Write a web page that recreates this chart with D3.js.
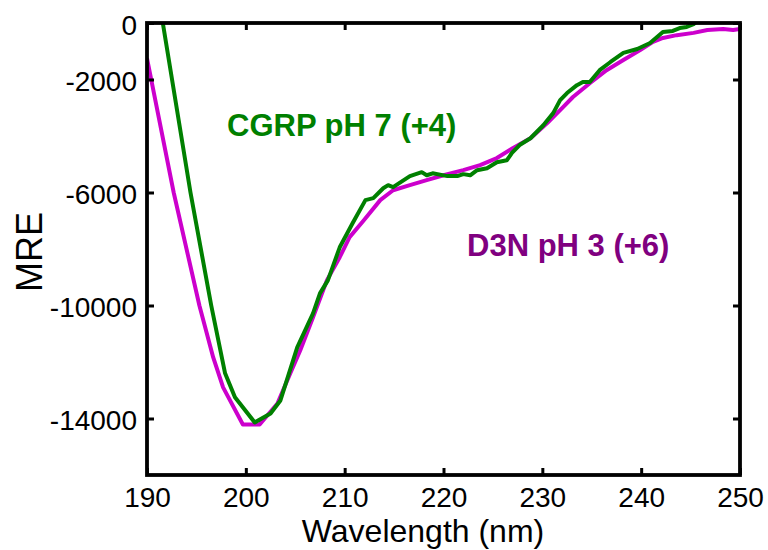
<!DOCTYPE html>
<html>
<head>
<meta charset="utf-8">
<script src="https://cdn.jsdelivr.net/npm/d3@7"></script>
<style>
  html, body { margin: 0; padding: 0; background: #fff; }
  svg { display: block; font-family: "Liberation Sans", Arial, Helvetica, sans-serif; }
</style>
</head>
<body>
<svg id="chart" width="768" height="550"></svg>
<script>
// ---- data ----
const xTicks = [190, 200, 210, 220, 230, 240, 250];
const yTicks = [0, -2000, -6000, -10000, -14000];

const cgrpWavelength = [190, 191, 191.6, 194.4, 196.5, 197.9, 198.9, 200.9, 202.5, 203.5, 205.2, 206.8, 207.5, 208.3, 209.5, 210.8, 212.1, 212.9, 213.9, 214.4, 214.9, 216.6, 217.8, 218.3, 218.9, 220.4, 221.4, 222.0, 222.7, 223.4, 224.4, 225.4, 226.4, 226.9, 227.7, 228.8, 230.1, 231.1, 231.8, 232.5, 233.5, 234.1, 234.8, 235.8, 236.9, 238.2, 239.6, 240.9, 242.2, 243.2, 243.9, 244.6, 245.3, 246, 248, 250];
const cgrpMRE = [3600, 1300, 0, -6000, -10000, -12400, -13250, -14140, -13820, -13360, -11480, -10280, -9570, -9110, -7940, -7090, -6270, -6200, -5850, -5740, -5810, -5420, -5280, -5390, -5320, -5420, -5420, -5350, -5390, -5210, -5140, -4930, -4860, -4610, -4320, -4080, -3620, -3190, -2730, -2480, -2200, -2090, -2090, -1670, -1380, -1060, -920, -710, -320, -280, -180, -140, -40, 150, 300, 400];

const d3nWavelength = [190, 192.7, 195.3, 196.7, 197.7, 199.7, 201.4, 203.2, 204.5, 205.5, 206.8, 208.2, 209.5, 210.5, 211.9, 213.6, 214.9, 216.6, 218.3, 220.0, 222.0, 223.7, 225.4, 227.0, 228.8, 230.5, 232.1, 233.1, 234.8, 236.5, 238.2, 239.9, 241.2, 242.2, 243.6, 245.3, 246.7, 248.3, 249.3, 250];
const d3nMRE = [-1250, -6000, -10000, -11840, -12900, -14210, -14210, -13470, -12400, -11590, -10420, -9110, -8290, -7580, -7000, -6270, -5920, -5740, -5560, -5390, -5210, -5030, -4780, -4430, -4080, -3540, -2980, -2620, -2130, -1670, -1310, -960, -670, -530, -430, -350, -250, -210, -250, -210];

const seriesNames = ["CGRP pH 7 (+4)", "D3N pH 3 (+6)"];
const lineColors = ["#008000", "#cc00cc"];
const labelColors = ["#008000", "#800080"];

// ---- layout ----
const W = 768, H = 550;
const margin = { top: 23, right: 28, bottom: 75, left: 147 };
const iw = W - margin.left - margin.right;
const ih = H - margin.top - margin.bottom;

const svg = d3.select("#chart");
const g = svg.append("g").attr("transform", `translate(${margin.left},${margin.top})`);

const x = d3.scaleLinear().domain([190, 250]).range([0, iw]);
const y = d3.scaleLinear().domain([-16000, 0]).range([ih, 0]);

g.append("clipPath").attr("id", "clip")
  .append("rect").attr("x", 0).attr("y", 0).attr("width", iw).attr("height", ih);

const line = d3.line().x(d => x(d[0])).y(d => y(d[1]));

const series = [
  d3.zip(cgrpWavelength, cgrpMRE),
  d3.zip(d3nWavelength, d3nMRE)
];

const order = [1, 0];
order.forEach(i => {
  g.append("path")
    .datum(series[i])
    .attr("clip-path", "url(#clip)")
    .attr("fill", "none")
    .attr("stroke", lineColors[i])
    .attr("stroke-width", 4)
    .attr("stroke-linejoin", "round")
    .attr("d", line);
});

// ---- axes (ticks inward, mirrored) ----
const tickLen = 7;
const fmt = d => String(d);

const axB = g.append("g").attr("transform", `translate(0,${ih})`)
  .call(d3.axisBottom(x).tickValues(xTicks).tickSize(-tickLen).tickPadding(12).tickFormat(fmt));
const axT = g.append("g")
  .call(d3.axisTop(x).tickValues(xTicks).tickSize(-tickLen).tickFormat(""));
const axL = g.append("g")
  .call(d3.axisLeft(y).tickValues(yTicks).tickSize(-tickLen).tickPadding(10).tickFormat(fmt));
const axR = g.append("g").attr("transform", `translate(${iw},0)`)
  .call(d3.axisRight(y).tickValues(yTicks).tickSize(-tickLen).tickFormat(""));

[axB, axT, axL, axR].forEach(a => {
  a.select(".domain").remove();
  a.selectAll(".tick line").attr("stroke", "#000").attr("stroke-width", 3);
  a.selectAll(".tick text")
    .attr("fill", "#000")
    .style("font-family", '"Liberation Sans", Arial, sans-serif')
    .style("font-size", "28px");
});
axB.selectAll(".tick text").attr("dy", "0.71em");
axL.selectAll(".tick text").attr("dy", "0.40em");

// frame
g.append("rect")
  .attr("x", 0).attr("y", 0).attr("width", iw).attr("height", ih)
  .attr("fill", "none").attr("stroke", "#000").attr("stroke-width", 3.8);

// axis titles
svg.append("text")
  .attr("x", 423).attr("y", 542)
  .attr("text-anchor", "middle")
  .style("font-size", "32px")
  .attr("fill", "#000")
  .text("Wavelength (nm)");

svg.append("text")
  .attr("transform", "translate(42,252) rotate(-90)")
  .attr("text-anchor", "middle")
  .style("font-size", "36px")
  .attr("fill", "#000")
  .text("MRE");

// series annotations
const labelPos = [[227, 136], [467, 256]];
seriesNames.forEach((name, i) => {
  svg.append("text")
    .attr("x", labelPos[i][0]).attr("y", labelPos[i][1])
    .style("font-size", "31px")
    .style("font-weight", "bold")
    .attr("fill", labelColors[i])
    .text(name);
});
</script>
</body>
</html>
